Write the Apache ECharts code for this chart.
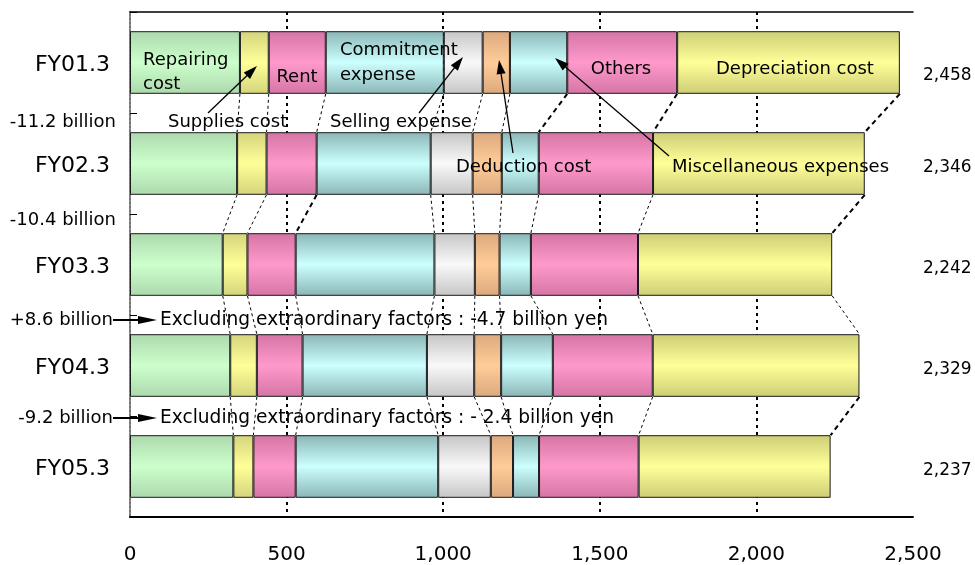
<!DOCTYPE html>
<html>
<head>
<meta charset="utf-8">
<script src="https://cdn.jsdelivr.net/npm/echarts@6/dist/echarts.min.js"></script>
<style>
  html, body { margin: 0; padding: 0; background: #fff; }
  #chart { width: 975px; height: 565px; }
</style>
</head>
<body>
<div id="chart"></div>
<script>
// Fiscal years (top to bottom)
const years = ['FY01.3', 'FY02.3', 'FY03.3', 'FY04.3', 'FY05.3'];

// Cost breakdown per year (100 million yen), stacked left to right
const repairing    = [351, 342, 296, 320, 330];
const supplies     = [92, 94, 79, 85, 64];
const rent         = [182, 160, 154, 146, 135];
const commitment   = [377, 364, 443, 397, 455];
const selling      = [124, 134, 129, 151, 168];
const deduction    = [87, 93, 79, 86, 71];
const misc         = [183, 118, 100, 165, 83];
const others       = [351, 365, 342, 319, 318];
const depreciation = [711, 676, 620, 660, 613];

const costNames = ['Repairing cost', 'Supplies cost', 'Rent', 'Commitment expense',
  'Selling expense', 'Deduction cost', 'Miscellaneous expenses', 'Others', 'Depreciation cost'];

// Year-over-year change notes shown between the bars
const changeNotes = ['-11.2 billion', '-10.4 billion', '+8.6 billion', '-9.2 billion'];
const excludingNotes = ['Excluding extraordinary factors : -4.7 billion yen',
  'Excluding extraordinary factors : - 2.4 billion yen'];

// x axis ticks
const xMin = 0, xMax = 2500, xStep = 500;

const seriesValues = [repairing, supplies, rent, commitment, selling, deduction, misc, others, depreciation];

// Cylinder-like shading: [edge, centre]
const shades = [
  ['#ADD9AD', '#CCFFCC'],
  ['#D4D47C', '#FFFF99'],
  ['#D475A5', '#FF99CC'],
  ['#8BB6B6', '#CCFFFF'],
  ['#C6C6C6', '#F9F9F9'],
  ['#DBA97D', '#FFCC99'],
  ['#8BB6B6', '#CCFFFF'],
  ['#D475A5', '#FF99CC'],
  ['#CDCD76', '#FFFF99']
];

const FONT = '"DejaVu Sans", Verdana, sans-serif';
const BAR_RATIO = 0.62;

const totals = years.map((_, r) => seriesValues.reduce((s, arr) => s + arr[r], 0));
const fmt = n => n.toLocaleString('en-US');

// cumulative boundaries per year: cum[r][k] = sum of first k segments
const cum = years.map((_, r) => {
  const out = [0];
  seriesValues.forEach(arr => out.push(out[out.length - 1] + arr[r]));
  return out;
});

// connector lines: boundary k of year r (bar bottom) to boundary k of year r+1 (bar top)
const connectorData = [];
for (let r = 0; r < years.length - 1; r++) {
  for (let k = 1; k <= seriesValues.length; k++) {
    connectorData.push([cum[r][k], r, cum[r + 1][k], r + 1]);
  }
}

const barSeries = seriesValues.map((arr, i) => ({
  name: costNames[i],
  type: 'bar',
  stack: 'cost',
  barWidth: (BAR_RATIO * 100) + '%',
  yAxisIndex: 0,
  xAxisIndex: 0,
  data: arr,
  silent: true,
  itemStyle: {
    borderColor: '#1a1a1a',
    borderWidth: 1,
    color: new echarts.graphic.LinearGradient(0, 0, 0, 1, [
      { offset: 0, color: shades[i][0] },
      { offset: 0.5, color: shades[i][1] },
      { offset: 1, color: shades[i][0] }
    ])
  }
}));

const connectorSeries = {
  type: 'custom',
  xAxisIndex: 0,
  yAxisIndex: 0,
  silent: true,
  z: 3,
  encode: { x: [0, 2], y: [1, 3] },
  data: connectorData,
  renderItem(params, api) {
    const a = api.coord([api.value(0), api.value(1)]);
    const b = api.coord([api.value(2), api.value(3)]);
    const half = api.size([0, 1])[1] * BAR_RATIO / 2;
    const x1 = a[0], y1 = a[1] + half, x2 = b[0], y2 = b[1] - half;
    const thick = (x2 - x1) < -20;
    return {
      type: 'line',
      shape: { x1, y1, x2, y2 },
      style: { stroke: '#000', lineWidth: thick ? 2 : 1, lineDash: thick ? [5, 4] : [3, 3] }
    };
  }
};

function txt(t, x, y, align, size) {
  return {
    type: 'text', x, y, z: 100, silent: true,
    style: { text: t, font: (size || 18) + 'px ' + FONT, fill: '#000', align: align || 'left', verticalAlign: 'middle' }
  };
}

function arrow(x1, y1, x2, y2, len, w, lw) {
  const dx = x2 - x1, dy = y2 - y1, L = Math.hypot(dx, dy);
  const ux = dx / L, uy = dy / L;
  const bx = x2 - ux * len, by = y2 - uy * len;
  const px = -uy * w / 2, py = ux * w / 2;
  return [
    { type: 'line', z: 100, silent: true, shape: { x1, y1, x2: bx + ux, y2: by + uy }, style: { stroke: '#000', lineWidth: lw } },
    { type: 'polygon', z: 100, silent: true, shape: { points: [[x2, y2], [bx + px, by + py], [bx - px, by - py]] }, style: { fill: '#000' } }
  ];
}

const graphics = [
  // labels inside the FY01.3 bar
  txt('Repairing', 143, 60.5), txt('cost', 143, 84),
  txt('Rent', 297, 77, 'center'),
  txt('Commitment', 340, 50.5), txt('expense', 340, 75.5),
  txt('Others', 621, 69, 'center'),
  txt('Depreciation cost', 716, 69),
  // callouts
  txt('Supplies cost', 168, 122),
  txt('Selling expense', 330, 122),
  txt('Deduction cost', 456, 167),
  txt('Miscellaneous expenses', 672, 167),
  ...arrow(208, 113, 257, 66, 14, 9, 1.3),
  ...arrow(419, 113, 463, 57, 14, 9, 1.3),
  ...arrow(513, 153, 499, 60, 14, 9, 1.3),
  ...arrow(669, 156, 555, 58, 14, 9, 1.3),
  // change notes between years
  txt(changeNotes[0], 116, 122, 'right'),
  txt(changeNotes[1], 116, 220, 'right'),
  txt(changeNotes[2], 113, 320, 'right'),
  txt(changeNotes[3], 113, 418, 'right'),
  ...arrow(113, 320, 157, 320, 19, 8, 2),
  ...arrow(113, 418, 157, 418, 19, 8, 2),
  txt(excludingNotes[0], 160, 320, 'left', 18.6),
  txt(excludingNotes[1], 160, 418, 'left', 18.6)
];

const chart = echarts.init(document.getElementById('chart'), null, { renderer: 'canvas' });
chart.setOption({
  animation: false,
  backgroundColor: '#fff',
  textStyle: { fontFamily: FONT },
  grid: { left: 130, top: 12, width: 783, height: 506, containLabel: false },
  xAxis: [
    {
      type: 'value', position: 'bottom', min: xMin, max: xMax, interval: xStep,
      axisLine: { show: true, lineStyle: { color: '#000', width: 2 } },
      axisTick: { show: false },
      axisLabel: { color: '#000', fontSize: 20, margin: 28, fontFamily: FONT, formatter: v => fmt(v) },
      splitLine: {
        show: true,
        lineStyle: {
          color: ['rgba(0,0,0,0)', '#000', '#000', '#000', '#000', 'rgba(0,0,0,0)'],
          type: [3, 4], width: 2
        }
      }
    },
    {
      type: 'value', position: 'top', min: xMin, max: xMax, interval: xStep,
      axisLine: { show: true, lineStyle: { color: '#000', width: 1.5 } },
      axisTick: { show: false }, axisLabel: { show: false }, splitLine: { show: false }
    }
  ],
  yAxis: [
    {
      type: 'category', data: years, inverse: true, position: 'left',
      axisLine: { show: true, lineStyle: { color: '#000', width: 1.5 } },
      axisTick: { show: true, inside: true, length: 7, lineStyle: { color: '#000' } },
      axisLabel: {
        color: '#000', fontSize: 22, margin: 20, fontFamily: FONT,
        formatter: v => '{y|' + v + '}',
        rich: { y: { fontSize: 22, fontFamily: FONT, color: '#000', padding: [6, 0, 0, 0] } }
      }
    },
    {
      type: 'category', data: years, inverse: true, position: 'right',
      axisLine: { show: true, lineStyle: { color: '#888', width: 2, type: [2, 2] } },
      axisTick: { show: false },
      axisLabel: {
        color: '#000', fontSize: 17, margin: 10, fontFamily: FONT,
        formatter: (v, i) => (i === 0 ? '{first|' : '{rest|') + fmt(totals[i]) + '}',
        rich: {
          first: { fontSize: 17, fontFamily: FONT, color: '#000', padding: [26, 0, 0, 0] },
          rest: { fontSize: 17, fontFamily: FONT, color: '#000', padding: [8, 0, 0, 0] }
        }
      }
    }
  ],
  series: [...barSeries, connectorSeries],
  graphic: graphics
});
</script>
</body>
</html>
